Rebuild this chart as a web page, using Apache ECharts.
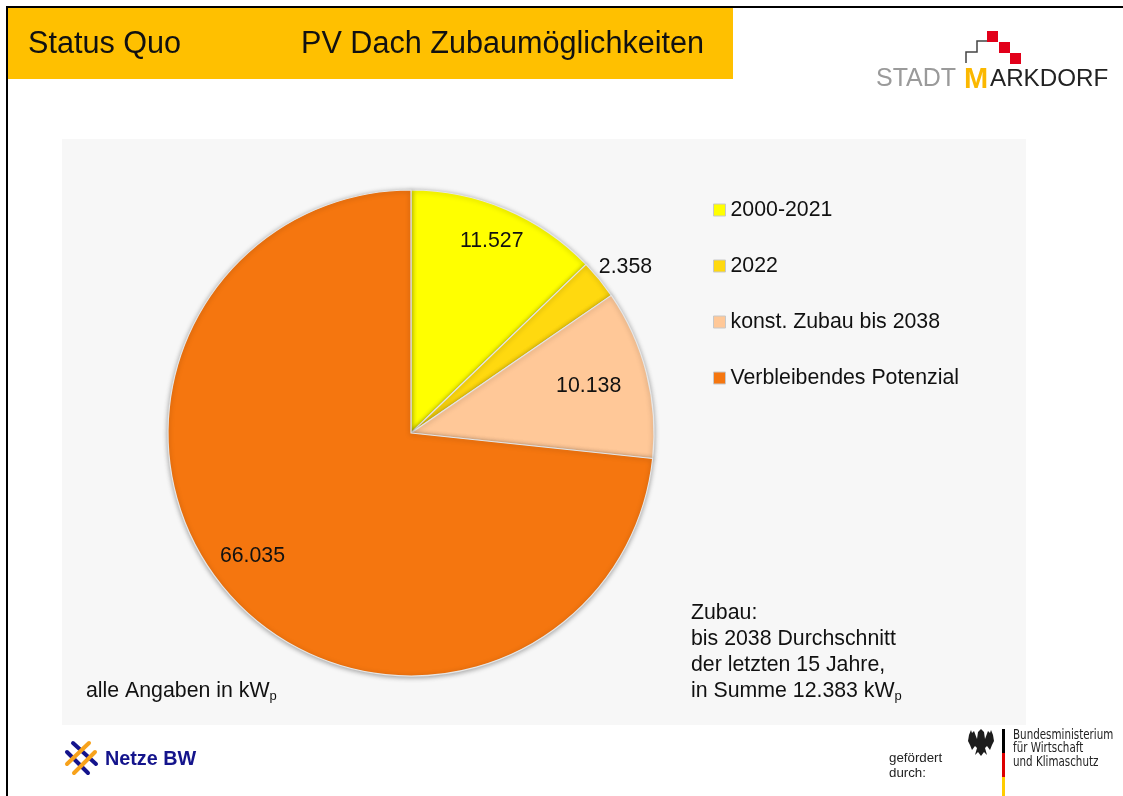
<!DOCTYPE html>
<html><head><meta charset="utf-8">
<style>html,body{margin:0;padding:0;background:#fff}#c{width:1123px;height:796px}</style>
<script src="https://cdn.jsdelivr.net/npm/echarts@6/dist/echarts.min.js"></script>
</head><body><div id="c"></div>
<script>
const categories = ['2000-2021','2022','konst. Zubau bis 2038','Verbleibendes Potenzial'];
const values = [11527,2358,10138,66035];
const valueLabels = ['11.527','2.358','10.138','66.035'];
const colors = ['#FFFF00','#FFD90F','#FFC898','#F5760F'];
const labelShift = [[32,-77],[-4,-11],[57,-16],[-66,40]];

const FONT = '"Liberation Sans", Arial, sans-serif';
const NARROW = '"DejaVu Sans Condensed", sans-serif';
const chart = echarts.init(document.getElementById('c'), null, {renderer:'canvas'});

function rect(x,y,w,h,fill,z){return {type:'rect',silent:true,z:z||0,shape:{x,y,width:w,height:h},style:{fill}};}
function txt(x,y,text,size,fill,extra){return {type:'text',silent:true,z:5,x,y,style:Object.assign({text,font:size+'px '+FONT,fill,textBaseline:'top'},extra||{})};}
function narrow(x,y,text){return {type:'text',silent:true,z:5,x,y,scaleX:0.85,style:{text,font:'13.5px '+NARROW,fill:'#222',textBaseline:'top'}};}
function bar(x1,y1,x2,y2,color,w,z){return {type:'line',silent:true,z:z||3,shape:{x1,y1,x2,y2},style:{stroke:color,lineWidth:w,lineCap:'round'}};}
function subText(x,y,main){return {type:'text',silent:true,z:5,x,y,style:{text:'{a|'+main+'}{s|p}',fill:'#111',rich:{a:{fontSize:21.3,fontFamily:'Liberation Sans',fill:'#111'},s:{fontSize:13,fontFamily:'Liberation Sans',fill:'#111',padding:[10,0,0,0]}}}};}

const graphic = [
  rect(62,139,964,586,'#F7F7F7',-10),
  rect(8,8,725,71,'#FFC000',1),
  rect(6,6,1117,2,'#000',2),
  rect(6,6,2,790,'#000',2),
  txt(28,29,'Status Quo',30.6,'#111'),
  txt(301,29,'PV Dach Zubaumöglichkeiten',30.6,'#111'),
  // Stadt Markdorf logo
  {type:'polyline',silent:true,z:3,shape:{points:[[966,63],[966,52],[977,52],[977,41],[987,41]]},style:{fill:'none',stroke:'#444',lineWidth:1.5}},
  rect(987,31,11,11,'#E2001A',3),
  rect(999,42,11,11,'#E2001A',3),
  rect(1010,53,11,11,'#E2001A',3),
  txt(876,67,'STADT',25,'#9a9a9a'),
  txt(964,65,'M',29,'#FBB800',{font:'bold 29px '+FONT}),
  txt(990,67,'ARKDORF',24.2,'#222',{font:'24.2px '+FONT}),
  // annotation text
  subText(86,680,'alle Angaben in kW'),
  txt(691,603,'Zubau:',21.3,'#111'),
  txt(691,629,'bis 2038 Durchschnitt',21.3,'#111'),
  txt(691,655,'der letzten 15 Jahre,',21.3,'#111'),
  subText(691,680,'in Summe 12.383 kW'),
  // Netze BW logo
  bar(73,743,96,764,'#14148C',4),
  bar(67,752,88,773,'#14148C',4),
  bar(89,743,67,764,'#F7A21B',4,4),
  bar(95,752,74,773,'#F7A21B',4,4),
  txt(105,750,'Netze BW',19.8,'#14148C',{font:'bold 19.8px '+FONT}),
  // funding block
  txt(889,752,'gefördert',13.3,'#222'),
  txt(889,767,'durch:',13.3,'#222'),
  rect(1002,729,3,24,'#000',3),
  rect(1002,753,3,24,'#DD0000',3),
  rect(1002,777,3,19,'#FFCC00',3),
  narrow(1013,728,'Bundesministerium'),
  narrow(1013,741,'für Wirtschaft'),
  narrow(1013,755,'und Klimaschutz'),
  // federal eagle (simplified)
  {type:'polygon',silent:true,z:3,shape:{points:[[981,729],[984,732],[985,739],[988,731],[990,733],[991,730],[993,735],[994,741],[992,745],[990,750],[987,746],[985,748],[987,755],[984,752],[981,756],[978,752],[975,755],[977,748],[975,746],[972,750],[970,745],[968,741],[969,735],[971,730],[972,733],[974,731],[977,739],[978,732]]},style:{fill:'#1c1c1c'}}
];

chart.setOption({
  animation:false,
  backgroundColor:'#fff',
  color:colors,
  textStyle:{fontFamily:'Liberation Sans'},
  graphic,
  legend:{
    orient:'vertical',left:708,top:193,itemWidth:12,itemHeight:12,itemGap:32,
    icon:'rect',selectedMode:false,
    itemStyle:{borderColor:'#C8C8C8',borderWidth:1,shadowBlur:0},
    textStyle:{fontSize:21.3,color:'#111',fontFamily:'Liberation Sans',lineHeight:24,height:24}
  },
  series:[{
    type:'pie',
    center:[411,433],radius:[0,243],startAngle:90,clockwise:true,silent:true,
    itemStyle:{borderColor:'#E6E6E6',borderWidth:1.2,shadowColor:'rgba(0,0,0,0.35)',shadowBlur:5,shadowOffsetY:1},
    label:{show:true,position:'inside',fontSize:21.3,color:'#111',fontFamily:'Liberation Sans',
      formatter:p=>valueLabels[p.dataIndex]},
    labelLine:{show:false},
    labelLayout:p=>({dx:labelShift[p.dataIndex][0],dy:labelShift[p.dataIndex][1]}),
    data:categories.map((name,i)=>({name,value:values[i],
      itemStyle:{color:colors[i]},
      label:i===1?{position:'outside',distanceToLabelLine:0}:undefined,
      labelLine:i===1?{show:false,length:2,length2:2}:undefined}))
  }]
});
</script></body></html>
